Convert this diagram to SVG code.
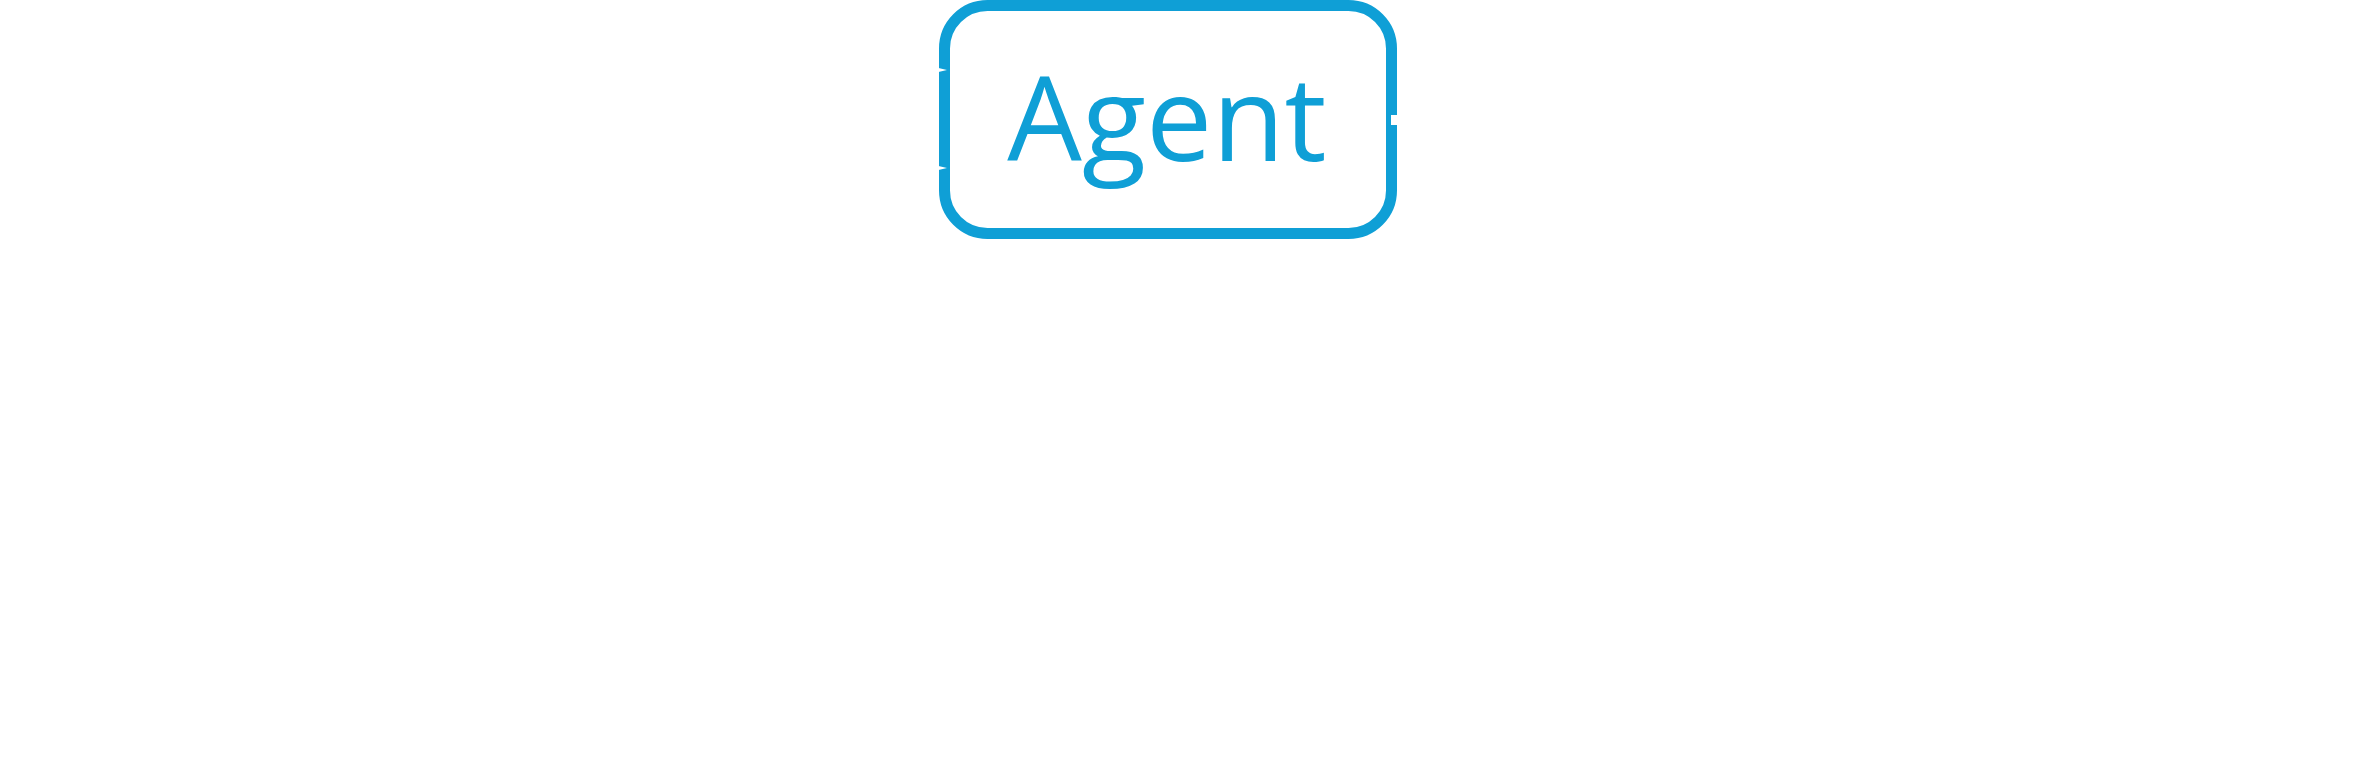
<svg xmlns="http://www.w3.org/2000/svg" width="2370" height="778" viewBox="0 0 2370 778">
  <style>
    .node-box { fill: #ffffff; stroke: #0F9FD6; stroke-width: 11; }
    .node-label { font-family: "Open Sans", "Noto Sans", "Liberation Sans", sans-serif; font-size: 118px; fill: #0F9FD6; text-anchor: middle; }
    .conn { stroke: #ffffff; stroke-width: 10; fill: none; }
    .head { fill: #ffffff; }
  </style>
  <rect x="0" y="0" width="2370" height="778" fill="#ffffff"/>
  <g id="agent">
    <rect class="node-box" x="944.5" y="5.5" width="447" height="228" rx="43" ry="43"/>
    <text class="node-label" x="1167" y="161">Agent</text>
  </g>
  <g id="connectors">
    <polygon class="head" points="930,66 947,70 930,74"/>
    <polygon class="head" points="930,164 947,168 930,172"/>
    <line class="conn" x1="1391" y1="120" x2="1404" y2="120"/>
  </g>
</svg>
